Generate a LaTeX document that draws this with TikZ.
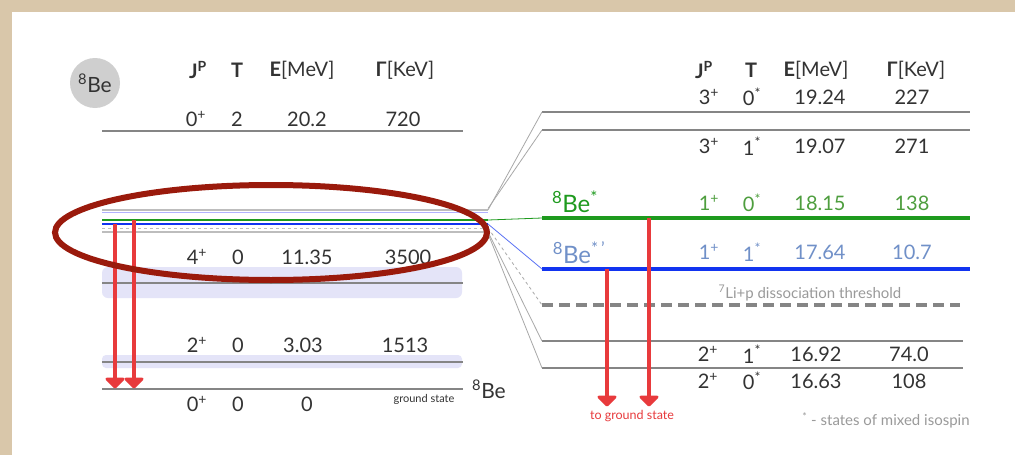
\documentclass[tikz,border=0pt]{standalone}
\usepackage{fontspec}
\setmainfont{Lato}
\usetikzlibrary{arrows.meta}
\definecolor{beige}{HTML}{D9C7AA}
\definecolor{txtgray}{HTML}{333333}
\definecolor{lvlgray}{HTML}{858585}
\definecolor{lightlvl}{HTML}{BDBDBD}
\definecolor{connc}{HTML}{A8A8A8}
\definecolor{lavender}{HTML}{E4E4F8}
\definecolor{greenline}{HTML}{1E9A1E}
\definecolor{greentxt}{HTML}{4E9E3E}
\definecolor{blueline}{HTML}{1234F0}
\definecolor{bluetxt}{HTML}{7090C8}
\definecolor{redarrow}{HTML}{E83A3C}
\definecolor{ellred}{HTML}{9A1A0C}
\definecolor{notegray}{HTML}{9A9A9A}
\definecolor{badge}{HTML}{CFCFCF}
\begin{document}
\begin{tikzpicture}[x=1pt,y=-1pt,
  txt/.style={font=\fontsize{20}{22}\selectfont, text=txtgray, inner sep=0pt},
  hdr/.style={font=\fontsize{20}{22}\selectfont, text=txtgray, inner sep=0pt},
  lvl/.style={draw=lvlgray, line width=2pt},
  rlvl/.style={draw=lvlgray, line width=2.6pt},
  conn/.style={draw=connc, line width=0.8pt},
  redarr/.style={draw=redarrow, line width=3.5pt},
  redhead/.style={draw=redarrow, fill=redarrow, line width=3pt, line join=round, line cap=round},
]
\useasboundingbox (0,0) rectangle (1015,455);
\fill[beige] (0,0) rectangle (1015,455);
\fill[white] (12,12) rectangle (1015,455);

% ---------- left diagram ----------
\node[circle, fill=badge, minimum size=50pt, inner sep=0pt] (badge) at (95,83) {};
\node[txt, font=\fontsize{21}{23}\selectfont] (badgetxt) at (95,83) {\textsuperscript{8}Be};

\node[hdr] (lhJ) at (198,70) {\textbf{J}\textsuperscript{\textbf{P}}};
\node[hdr] (lhT) at (237,70) {\textbf{T}};
\node[hdr] (lhE) at (302,70) {\textbf{E}[MeV]};
\node[hdr] (lhG) at (405,70) {\textbf{Γ}[KeV]};

% level 20.2
\node[txt] (l1j) at (196,119) {0\textsuperscript{+}};
\node[txt] (l1t) at (237,119) {2};
\node[txt] (l1e) at (307,119) {20.2};
\node[txt] (l1g) at (403,119) {720};
\coordinate (l1a) at (102,131); \coordinate (l1b) at (463,131);
\draw[lvl] (l1a) -- (l1b);

% lavender bands
\fill[lavender, rounded corners=6pt] (102,267) rectangle (462,298);
\fill[lavender, rounded corners=4pt] (102,355) rectangle (462,368);

% cluster of lines
\coordinate (c1a) at (102,210); \coordinate (c1b) at (488,210);
\coordinate (c2a) at (102,212.5); \coordinate (c2b) at (488,212.5);
\coordinate (c3a) at (102,220); \coordinate (c3b) at (488,220);
\coordinate (c4a) at (102,224); \coordinate (c4b) at (488,224);
\coordinate (c5a) at (102,228); \coordinate (c5b) at (488,228);
\coordinate (c6a) at (102,232); \coordinate (c6b) at (488,232);
\draw[draw=lightlvl, line width=1.8pt] (c1a) -- (c1b);
\draw[draw=blue!30, line width=1.2pt] (c2a) -- (c2b);
\draw[draw=greenline, line width=2pt] (c3a) -- (c3b);
\draw[draw=blueline, line width=2pt] (c4a) -- (c4b);
\draw[draw=lightlvl, line width=0.9pt, dashed] (c5a) -- (c5b);
\draw[draw=lightlvl, line width=1.8pt] (c6a) -- (c6b);

% level 11.35
\node[txt] (l2j) at (197,257) {4\textsuperscript{+}};
\node[txt] (l2t) at (238,257) {0};
\node[txt] (l2e) at (307,257) {11.35};
\node[txt] (l2g) at (408,257) {3500};
\coordinate (l2a) at (102,283); \coordinate (l2b) at (463,283);
\draw[lvl] (l2a) -- (l2b);

% level 3.03
\node[txt] (l3j) at (197,345) {2\textsuperscript{+}};
\node[txt] (l3t) at (238,345) {0};
\node[txt] (l3e) at (303,345) {3.03};
\node[txt] (l3g) at (405,345) {1513};
\coordinate (l3a) at (102,362); \coordinate (l3b) at (463,362);
\draw[lvl] (l3a) -- (l3b);

% ground
\coordinate (l4a) at (102,389); \coordinate (l4b) at (463,389);
\draw[lvl] (l4a) -- (l4b);
\node[txt] (l4j) at (197,404) {0\textsuperscript{+}};
\node[txt] (l4t) at (238,404) {0};
\node[txt] (l4e) at (307,404) {0};
\node[txt, font=\fontsize{11}{12}\selectfont] (gs) at (424,399) {ground state};
\node[txt, font=\fontsize{21}{23}\selectfont] (be8) at (489,389) {\textsuperscript{8}Be};

% left red arrows
\coordinate (la1s) at (115,224); \coordinate (la1e) at (115,387);
\coordinate (la2s) at (134,220); \coordinate (la2e) at (134,387);
\draw[redarr] (la1s) -- ([yshift=4pt]la1e);
\draw[redarr] (la2s) -- ([yshift=4pt]la2e);
\draw[redhead] ([shift={(-8,-8)}]la1e) -- (la1e) -- ([shift={(8,-8)}]la1e) -- cycle;
\draw[redhead] ([shift={(-8,-8)}]la2e) -- (la2e) -- ([shift={(8,-8)}]la2e) -- cycle;

% ---------- right diagram ----------
\node[hdr] (rhJ) at (704,70) {\textbf{J}\textsuperscript{\textbf{P}}};
\node[hdr] (rhT) at (751,70) {\textbf{T}};
\node[hdr] (rhE) at (816,70) {\textbf{E}[MeV]};
\node[hdr] (rhG) at (916,70) {\textbf{Γ}[KeV]};

\node[txt] (r1j) at (709,97) {3\textsuperscript{+}};
\node[txt] (r1t) at (752,97) {0\textsuperscript{*}};
\node[txt] (r1e) at (820,97) {19.24};
\node[txt] (r1g) at (912,97) {227};
\coordinate (r1a) at (542,112); \coordinate (r1b) at (970,112);
\draw[rlvl] (r1a) -- (r1b);

\coordinate (r2a) at (542,130); \coordinate (r2b) at (970,130);
\draw[rlvl] (r2a) -- (r2b);
\node[txt] (r2j) at (709,146) {3\textsuperscript{+}};
\node[txt] (r2t) at (752,146) {1\textsuperscript{*}};
\node[txt] (r2e) at (820,146) {19.07};
\node[txt] (r2g) at (912,146) {271};

% green 18.15
\node[txt, text=greenline, font=\fontsize{24}{26}\selectfont] (bes) at (575,202) {\textsuperscript{8}Be\textsuperscript{*}};
\node[txt, text=greentxt] (r3j) at (709,203) {1\textsuperscript{+}};
\node[txt, text=greentxt] (r3t) at (752,203) {0\textsuperscript{*}};
\node[txt, text=greentxt] (r3e) at (820,203) {18.15};
\node[txt, text=greentxt] (r3g) at (912,203) {138};
\coordinate (r3a) at (542,218); \coordinate (r3b) at (970,218);
\draw[draw=greenline, line width=3.5pt] (r3a) -- (r3b);

% blue 17.64
\node[txt, text=bluetxt, font=\fontsize{24}{26}\selectfont] (besp) at (579,253) {\textsuperscript{8}Be\textsuperscript{*\,'}};
\node[txt, text=bluetxt] (r4j) at (709,252) {1\textsuperscript{+}};
\node[txt, text=bluetxt] (r4t) at (752,252) {1\textsuperscript{*}};
\node[txt, text=bluetxt] (r4e) at (820,252) {17.64};
\node[txt, text=bluetxt] (r4g) at (912,252) {10.7};
\coordinate (r4a) at (542,269); \coordinate (r4b) at (970,269);
\draw[draw=blueline, line width=3.5pt] (r4a) -- (r4b);

% threshold
\node[txt, text=notegray, font=\fontsize{15}{17}\selectfont] (thr) at (810,293) {\textsuperscript{7}Li+p dissociation threshold};
\coordinate (r5a) at (542,305); \coordinate (r5b) at (960,305);
\draw[draw=lvlgray, line width=3.5pt, dash pattern=on 11pt off 6pt] (r5a) -- (r5b);

% 16.92 / 16.63
\coordinate (r6a) at (542,341); \coordinate (r6b) at (963,341);
\draw[rlvl] (r6a) -- (r6b);
\node[txt] (r6j) at (708,354) {2\textsuperscript{+}};
\node[txt] (r6t) at (752,354) {1\textsuperscript{*}};
\node[txt] (r6e) at (816,354) {16.92};
\node[txt] (r6g) at (909,354) {74.0};
\coordinate (r7a) at (542,368); \coordinate (r7b) at (963,368);
\draw[rlvl] (r7a) -- (r7b);
\node[txt] (r7j) at (708,381) {2\textsuperscript{+}};
\node[txt] (r7t) at (752,381) {0\textsuperscript{*}};
\node[txt] (r7e) at (816,381) {16.63};
\node[txt] (r7g) at (909,381) {108};

% right red arrows
\coordinate (ra1s) at (607,269); \coordinate (ra1e) at (607,405);
\coordinate (ra2s) at (649,218); \coordinate (ra2e) at (649,405);
\draw[redarr] (ra1s) -- ([yshift=4pt]ra1e);
\draw[redarr] (ra2s) -- ([yshift=4pt]ra2e);
\draw[redhead] ([shift={(-8,-8)}]ra1e) -- (ra1e) -- ([shift={(8,-8)}]ra1e) -- cycle;
\draw[redhead] ([shift={(-8,-8)}]ra2e) -- (ra2e) -- ([shift={(8,-8)}]ra2e) -- cycle;
\node[txt, text=redarrow, font=\fontsize{12.5}{14}\selectfont] (tgs) at (632,416) {to ground state};
\node[txt, text=notegray, font=\fontsize{15}{17}\selectfont] (note) at (886,420) {\textsuperscript{*} - states of mixed isospin};

% connectors
\draw[conn] (c1b) -- (r1a);
\draw[conn] ([yshift=1.5pt]c1b) -- (r2a);
\draw[draw=greenline, line width=0.8pt] (c3b) -- (r3a);
\draw[draw=blueline!70, line width=0.8pt] (c4b) -- (r4a);
\draw[conn, dashed] (c5b) -- (r5a);
\draw[conn] (c6b) -- (r6a);
\draw[conn] ([yshift=-1.5pt]c6b) -- (r7a);

% highlight ellipse
\coordinate (ellc) at (271,232.5);
\draw[ellred, line width=6pt] (ellc) ellipse [x radius=216, y radius=47.5];
\end{tikzpicture}
\end{document}
